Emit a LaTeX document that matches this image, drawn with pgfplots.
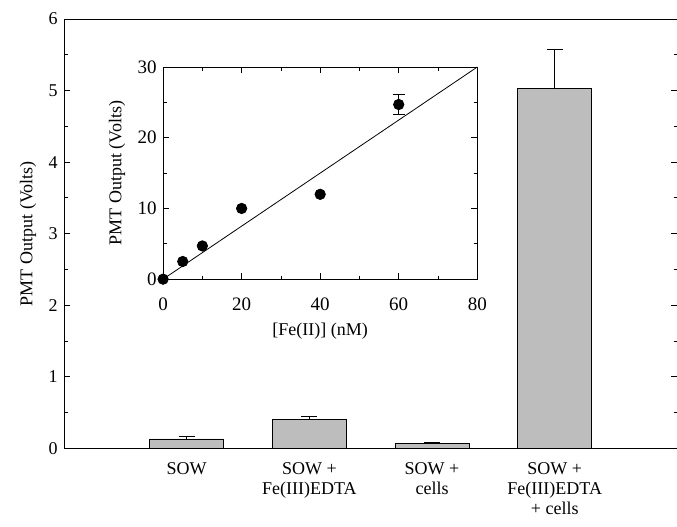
\documentclass[border=0pt]{standalone}
\usepackage{fontspec}
\setmainfont{Liberation Serif}
\usepackage{pgfplots}
\pgfplotsset{compat=1.18}
\begin{document}
\fontsize{9pt}{10.5pt}\selectfont
\begin{tikzpicture}
% main bar chart
\begin{axis}[
  name=main,
  at={(0,0)}, anchor=south west,
  scale only axis,
  width=306.5pt, height=214.5pt,
  xmin=0, xmax=5,
  ymin=0, ymax=6,
  xtick={1,2,3,4},
  xticklabels={SOW,{SOW +\\Fe(III)EDTA},{SOW +\\cells},{SOW +\\Fe(III)EDTA\\+ cells}},
  xticklabel style={align=center, font=\fontsize{9pt}{10pt}\selectfont, yshift=-4pt},
  major x tick style={draw=none},
  ytick={0,1,...,6},
  minor ytick={0.5,1.5,...,5.5},
  tick align=inside,
  major tick length=3pt,
  minor tick length=1.8pt,
  ylabel={PMT Output (Volts)},
  ylabel style={font=\fontsize{9pt}{10pt}\selectfont, xshift=0pt},
  yticklabel style={font=\fontsize{9pt}{10pt}\selectfont},
  /pgf/number format/assume math mode=true,
  axis line style={thin},
  every tick/.style={black, thin},
]
\addplot[ybar, bar width=37pt, draw=black, fill=gray!52,
  error bars/.cd, y dir=plus, y explicit, error mark options={rotate=90, mark size=4pt}]
  coordinates {(1,0.13) +- (0,0.03) (2,0.40) +- (0,0.04) (3,0.07) +- (0,0.015) (4,5.03) +- (0,0.55)};
\end{axis}
% inset
\begin{axis}[
  at={(49.5pt,84.5pt)}, anchor=south west,
  scale only axis,
  width=157pt, height=106pt,
  xmin=0, xmax=80, ymin=0, ymax=30,
  xtick={0,20,...,80}, minor xtick={10,30,50,70},
  ytick={0,10,20,30}, minor ytick={5,15,25},
  tick align=inside,
  major tick length=3pt,
  minor tick length=1.8pt,
  xlabel={[Fe(II)] (nM)},
  ylabel={PMT Output (Volts)},
  label style={font=\fontsize{9pt}{10pt}\selectfont},
  tick label style={font=\fontsize{9.5pt}{10pt}\selectfont},
  xticklabel style={yshift=-6pt},
  /pgf/number format/assume math mode=true,
  every tick/.style={black, thin},
  clip=false,
]
\addplot[black, thin] coordinates {(0,0) (80,30)};
\addplot[only marks, mark=*, mark size=2.6pt, black,
  error bars/.cd, y dir=both, y explicit, error mark options={rotate=90, mark size=3pt}]
  coordinates {(0,0) (5,2.5) (10,4.7) (20,10) (40,12) (60,24.7) +- (0,1.4)};
\end{axis}
\pgfresetboundingbox
\path (-32pt,-39pt) rectangle (306.3pt,224pt);
\end{tikzpicture}
\end{document}
